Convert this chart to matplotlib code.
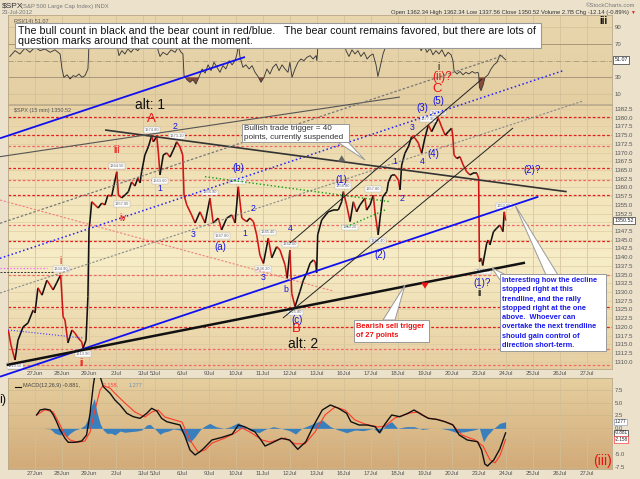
import numpy as np
import matplotlib
matplotlib.use('Agg')
import matplotlib.pyplot as plt
import matplotlib.colors as mcolors
from matplotlib.collections import LineCollection
from matplotlib.patches import Rectangle, Polygon

plt.rcParams['font.family'] = ['Liberation Sans', 'DejaVu Sans']

# ---------------------------------------------------------------- data
days = ['26Jun', '27Jun', '28Jun', '29Jun', '2Jul', '3Jul', '5Jul', '6Jul', '9Jul',
        '10Jul', '11Jul', '12Jul', '13Jul', '16Jul', '17Jul', '18Jul', '19Jul',
        '20Jul', '23Jul', '24Jul', '25Jul', '26Jul', '27Jul']
day_len = [1, 1, 1, 1, 1, 0.44, 1, 1, 1, 1, 1, 1, 1, 1, 1, 1, 1, 1, 1, 1, 1, 1, 1]

# time in trading days from 27-Jun open, 15-min S&P 500 path
price_t = [-0.99, -0.89, -0.74, -0.63, -0.44, -0.26, -0.07, 0.00, 0.11, 0.26, 0.44, 0.56,
           0.67, 0.80, 0.95, 0.99, 1.04, 1.11, 1.22, 1.37, 1.48, 1.60, 1.73, 1.78, 1.89,
           1.96, 2.00, 2.04, 2.10, 2.22, 2.34, 2.47, 2.59, 2.70, 2.84, 3.03, 3.09, 3.21,
           3.33, 3.46, 3.58, 3.70, 3.81, 3.89, 3.95, 4.07, 4.20, 4.32, 4.38, 4.51, 4.57,
           4.63, 4.75, 4.88, 5.00, 5.12, 5.25, 5.37, 5.47, 5.52, 5.62, 5.80, 5.93, 6.11,
           6.30, 6.48, 6.60, 6.79, 6.91, 7.10, 7.29, 7.41, 7.53, 7.66, 7.84, 7.96, 8.09,
           8.21, 8.33, 8.46, 8.64, 8.77, 8.95, 9.07, 9.26, 9.34, 9.44, 9.51, 9.63, 9.81,
           9.94, 10.06, 10.19, 10.31, 10.38, 10.43, 10.47, 10.62, 10.86, 11.05, 11.23,
           11.36, 11.42, 11.54, 11.67, 11.79, 11.91, 12.04, 12.22, 12.28, 12.41, 12.53,
           12.59, 12.71, 12.78, 12.88, 13.03, 13.09, 13.21, 13.33, 13.46, 13.52, 13.58,
           13.70, 13.83, 13.95, 14.07, 14.20, 14.32, 14.44, 14.57, 14.69, 14.81, 14.94,
           15.06, 15.19, 15.31, 15.43, 15.47, 15.52, 15.62, 15.74, 15.86, 15.99, 16.11,
           16.23, 16.36, 16.43, 16.46, 16.53, 16.58, 16.73, 16.79, 16.85, 16.98, 17.10,
           17.22, 17.33, 17.38, 17.43]
price_v = [1319.1, 1314.8, 1310.5, 1316.2, 1320.0, 1321.1, 1324.8, 1324.0, 1331.2, 1329.1,
           1333.4, 1332.0, 1330.6, 1332.6, 1334.9, 1329.7, 1322.9, 1322.0, 1315.4, 1319.1,
           1318.2, 1316.8, 1315.7, 1313.9, 1316.2, 1328.7, 1347.8, 1350.7, 1355.9, 1355.0,
           1354.1, 1355.5, 1355.0, 1357.8, 1357.5, 1364.5, 1357.8, 1357.0, 1357.8, 1358.8,
           1361.6, 1360.4, 1362.7, 1361.3, 1364.5, 1369.3, 1371.7, 1374.8, 1373.1, 1374.6,
           1369.9, 1363.6, 1369.3, 1369.9, 1368.7, 1370.7, 1373.1, 1371.6, 1369.3, 1357.8,
           1355.0, 1352.1, 1349.8, 1353.0, 1349.8, 1356.9, 1349.8, 1351.2, 1347.8, 1351.2,
           1352.1, 1349.8, 1360.2, 1351.2, 1350.2, 1351.2, 1350.2, 1346.4, 1340.6, 1338.2,
           1345.4, 1339.8, 1343.0, 1342.1, 1337.8, 1333.9, 1342.0, 1329.6, 1325.8, 1330.1,
           1333.4, 1335.4, 1338.3, 1339.2, 1338.6, 1335.5, 1346.4, 1350.7, 1353.0, 1353.5,
           1353.5, 1355.9, 1358.8, 1355.0, 1350.2, 1355.9, 1353.0, 1355.0, 1356.9, 1353.5,
           1355.0, 1357.8, 1353.0, 1346.4, 1351.2, 1357.3, 1358.8, 1361.6, 1363.6, 1363.6,
           1362.1, 1359.3, 1366.4, 1369.8, 1371.7, 1374.6, 1374.2, 1372.7, 1369.8, 1374.2,
           1377.9, 1376.0, 1377.9, 1379.8, 1377.4, 1375.0, 1376.0, 1377.0, 1375.0, 1369.3,
           1368.3, 1368.8, 1366.4, 1364.5, 1363.6, 1364.1, 1364.1, 1362.7, 1338.7, 1339.7,
           1337.6, 1344.0, 1344.9, 1343.5, 1347.3, 1348.3, 1349.2, 1347.3, 1353.0, 1350.5]

# swing points that carry a small price tag: (index into the price series, +1 above / -1 below)
swing_idx = [2, 14, 23, 35, 37, 47, 51, 56, 65, 68, 72, 79, 80, 86, 88, 102, 104, 111, 113,
             130, 133, 150, 158]
swing_dir = [-1, 1, -1, 1, -1, 1, -1, 1, 1, -1, 1, -1, 1, 1, -1, 1, -1, 1, -1, 1, 1, -1, 1]

rsi_t = [-0.93, -0.74, -0.56, -0.37, -0.19, 0.00, 0.19, 0.37, 0.56, 0.74, 0.93, 1.00, 1.07,
         1.19, 1.30, 1.41, 1.52, 1.63, 1.74, 1.85, 1.96, 2.00, 2.04, 2.22, 2.41, 2.59, 2.78,
         2.96, 3.04, 3.11, 3.22, 3.33, 3.44, 3.56, 3.67, 3.81, 3.96, 4.11, 4.26, 4.37, 4.48,
         4.56, 4.63, 4.74, 4.89, 5.04, 5.19, 5.30, 5.41, 5.48, 5.52, 5.63, 5.74, 5.85, 5.96,
         6.07, 6.19, 6.30, 6.41, 6.52, 6.63, 6.74, 6.85, 6.96, 7.07, 7.19, 7.30, 7.41, 7.48,
         7.54, 7.59, 7.70, 7.81, 7.93, 8.04, 8.15, 8.26, 8.37, 8.48, 8.59, 8.70, 8.81, 8.93,
         9.04, 9.15, 9.26, 9.37, 9.44, 9.52, 9.63, 9.74, 9.85, 9.96, 10.07, 10.19, 10.30,
         10.41, 10.44, 10.48, 10.56, 10.78, 10.93, 11.11, 11.30, 11.41, 11.52, 11.63, 11.74,
         11.85, 11.96, 12.07, 12.19, 12.30, 12.41, 12.52, 12.63, 12.70, 12.78, 12.89, 13.00,
         13.15, 13.33, 13.52, 13.63, 13.78, 13.93, 14.07, 14.19, 14.30, 14.41, 14.52, 14.63,
         14.74, 14.85, 14.96, 15.07, 15.19, 15.30, 15.41, 15.48, 15.52, 15.63, 15.74, 15.85,
         15.96, 16.07, 16.19, 16.30, 16.40, 16.43, 16.46, 16.52, 16.59, 16.67, 16.78, 16.89,
         17.00, 17.11, 17.22, 17.30, 17.43]
rsi_v = [55, 62, 58, 65, 60, 66, 62, 64, 60, 63, 58, 40, 30, 33, 28, 32, 31, 34, 30, 32, 40,
         70, 78, 82, 75, 80, 72, 78, 68, 56, 62, 58, 64, 60, 65, 62, 68, 75, 80, 76, 79, 62,
         55, 60, 57, 63, 60, 66, 60, 58, 32, 27, 24, 27, 22, 30, 40, 35, 45, 38, 48, 42, 36,
         44, 40, 50, 45, 50, 58, 70, 55, 42, 45, 40, 44, 36, 31, 24, 30, 40, 34, 42, 46, 38,
         45, 40, 36, 48, 30, 40, 48, 52, 50, 54, 56, 52, 56, 50, 68, 78, 82, 80, 84, 78, 80,
         62, 55, 63, 58, 62, 55, 60, 52, 56, 58, 45, 31, 42, 58, 68, 75, 78, 68, 74, 78, 82,
         76, 72, 62, 68, 60, 65, 57, 62, 58, 63, 55, 60, 57, 50, 38, 34, 37, 33, 36, 34, 37,
         35, 36, 34, 18, 14, 20, 30, 33, 40, 45, 48, 57, 55, 51.07]

macd_t = [0.06, 0.19, 0.37, 0.56, 0.68, 0.80, 0.93, 1.11, 1.23, 1.48, 1.73, 1.91, 2.04, 2.16,
          2.22, 2.41, 2.53, 2.78, 2.96, 3.15, 3.40, 3.64, 3.89, 4.14, 4.32, 4.51, 4.69, 4.88,
          5.12, 5.37, 5.56, 5.74, 5.93, 6.11, 6.25, 6.55, 6.93, 7.31, 7.53, 7.76, 8.14, 8.37,
          8.52, 8.74, 9.12, 9.43, 9.73, 10.03, 10.33, 10.64, 10.94, 11.24, 11.54, 11.70,
          12.00, 12.30, 12.60, 12.76, 12.98, 13.21, 13.51, 13.81, 14.04, 14.34, 14.57, 14.87,
          15.18, 15.48, 15.71, 16.01, 16.39, 16.54, 16.66, 16.76, 16.99, 17.21, 17.43]
macd_v = [2.59, 3.56, 3.75, 3.56, 2.59, 1.29, -0.32, -1.93, -2.71, -2.71, -2.45, -1.29, 2.92,
          8.4, 10.4, 10.1, 8.09, 6.80, 5.50, 4.53, 2.92, 2.26, 1.94, 2.92, 3.89, 3.37, 1.94,
          1.29, 0.97, 0.65, -1.62, -4.2, -5.17, -4.53, -3.88, -2.26, -1.74, -1.10, 0.65,
          0.32, -0.65, -2.26, -3.43, -2.91, -1.93, -2.26, -4.07, -2.59, 0.65, 3.56, 4.53,
          3.89, 2.92, 1.29, 0.65, 0.65, 0.32, -0.84, 0.97, 2.59, 2.26, 2.92, 3.56, 2.59, 1.94,
          1.75, 1.29, 0.65, -1.29, -2.26, -2.59, -4.2, -6.92, -7.3, -6.14, -4.07, -0.881]

sig_t = [0.06, 0.37, 0.67, 0.93, 1.11, 1.30, 1.59, 1.85, 2.04, 2.22, 2.41, 2.52, 2.78, 2.96,
         3.33, 3.70, 4.07, 4.33, 4.56, 4.81, 5.19, 5.44, 5.74, 6.04, 6.30, 6.56, 7.04, 7.41,
         7.67, 7.96, 8.41, 8.70, 9.26, 9.63, 10.00, 10.37, 10.74, 11.11, 11.48, 11.85, 12.22,
         12.70, 12.96, 13.33, 13.89, 14.19, 14.56, 15.00, 15.44, 15.81, 16.30, 16.59, 16.85,
         17.04, 17.22, 17.43]
sig_v = [2.59, 3.6, 3.2, 0.65, -1.29, -2.26, -2.71, -2.45, -0.7, 3.56, 7.45, 8.3, 7.8, 6.8,
         4.92, 3.18, 2.2, 3.18, 3.56, 2.2, 1.6, 1.23, -2.26, -4.6, -4.2, -2.84, -1.87, -0.9,
         0.07, -0.7, -2.26, -2.65, -1.87, -3.0, -3.0, -0.7, 2.59, 4.14, 3.56, 1.62, 0.84,
         0.26, 0.45, 2.0, 2.98, 3.17, 2.0, 1.62, 0.84, -1.29, -2.26, -3.43, -6.1, -6.7, -5.3,
         -2.158]

hist_t = [0.31, 0.56, 0.74, 0.93, 1.05, 1.17, 1.30, 1.48, 1.67, 1.85, 1.97, 2.10, 2.20, 2.29,
          2.41, 2.53, 2.66, 2.84, 2.96, 3.15, 3.33, 3.52, 3.77, 3.95, 4.14, 4.26, 4.44, 4.63,
          4.75, 4.94, 5.12, 5.37, 5.49, 5.62, 5.74, 5.93, 6.11, 6.25, 6.47, 6.70, 7.00, 7.23,
          7.53, 7.76, 7.99, 8.29, 8.52, 8.82, 9.12, 9.43, 9.65, 9.88, 10.18, 10.49, 10.64,
          10.94, 11.24, 11.54, 11.85, 12.15, 12.53, 12.76, 12.98, 13.21, 13.43, 13.74, 14.04,
          14.34, 14.64, 15.03, 15.33, 15.63, 15.93, 16.24, 16.46, 16.61, 16.76, 16.99, 17.21,
          17.43]
hist_v = [0, -0.1, -0.96, -1.29, -0.77, -1.62, -0.96, -0.32, 0, 0.65, 1.94, 4.53, 5.83, 3.23,
          0.97, -0.32, -0.96, -0.96, -1.29, -0.52, -0.77, -0.64, -0.52, -0.32, 0.65, 0.78,
          -0.1, -1.16, -0.77, -0.52, -0.1, -0.32, -0.96, -2.26, -2.71, -1.62, -0.32, 0.33,
          0.97, 0.33, 0, 0.33, 1.1, 0.33, -0.45, -0.84, -0.2, 0.33, 0, -0.45, -1.1, 0, 0.65,
          1.29, 1.62, 0.33, -0.32, -0.84, -0.32, -0.45, 0, -0.96, 0.65, 1.29, 0, 0.33, 0.33,
          -0.2, 0, 0, -0.32, -0.84, -0.64, -0.32, 0, -2.59, -1.29, 0, 0.97, 1.277]

fib_levels = [1380.2, 1375.0, 1372.0, 1365.5, 1362.2, 1357.7, 1349.1, 1344.7, 1334.8,
              1325.6, 1320.0, 1313.7, 1309.1]
fib_strong = [True, True, False, True, False, True, False, True, False, True, True, False,
              False]

# trend lines drawn on the chart: (day0, price0, day1, price1)
trend_pts = [(-1.296, 1374.10, 7.778, 1397.42),
             (-1.296, 1339.67, 19.556, 1393.49),
             (-1.296, 1305.71, 18.641, 1357.34),
             (-1.048, 1309.07, 18.148, 1338.41),
             (2.593, 1376.48, 19.693, 1358.78),
             (-1.296, 1368.82, 13.519, 1385.94),
             (-1.296, 1349.71, 17.333, 1397.79),
             (-1.296, 1329.72, 20.296, 1384.80),
             (-1.296, 1356.40, 11.037, 1330.29),
             (6.296, 1363.08, 13.148, 1355.91),
             (11.544, 1348.74, 12.963, 1353.53),
             (9.444, 1344.06, 16.556, 1391.11),
             (9.185, 1322.55, 17.704, 1377.05),
             (-1.296, 1336.80, 0.433, 1336.80),
             (-1.000, 1319.11, 1.778, 1316.81),
             (-1.296, 1335.83, 0.667, 1335.83)]
trend_style = [('#1010f0', 1.3, '-'), ('#2020ff', 1.1, ':'), ('#1010f0', 1.3, '-'),
               ('#111111', 1.8, '-'), ('#333333', 1.2, '-'), ('#555555', 0.8, '-'),
               ('#777777', 0.9, (0, (2, 1.5))), ('#8a8a8a', 0.8, (0, (2, 1.5))),
               ('#f08080', 0.8, (0, (2, 1.5))), ('#10a010', 1.0, ':'), ('#10a010', 1.0, ':'),
               ('#222222', 0.7, '-'), ('#222222', 0.7, '-'), ('#ff60ff', 0.9, ':'),
               ('#4040ff', 0.8, ':'), ('#333333', 0.7, (0, (2, 1.5)))]

header_right = 'Open 1362.34 High 1362.34 Low 1337.56 Close 1350.52 Volume 2.7B Chg -12.14 (-0.89%)'
last_close, last_rsi = 1350.52, 51.07
last_macd, last_sig, last_hist = -0.881, -2.158, 1.277

# ---------------------------------------------------------------- layout helpers
W, H = 640, 479
X_REF, PX_DAY = 35.0, 27.0
Y_REF, P_REF, PX_PT = 109.0, 1382.5, 3.486
RSI_Y50, RSI_PX = 60.65, 0.833
MACD_Y0, MACD_PX = 428.35, 5.153


def t_of(x):
    return (x - X_REF) / PX_DAY


def p_of(y):
    return P_REF - (y - Y_REF) / PX_PT


def rect(x0, y0, x1, y1):
    return [x0 / W, 1 - y1 / H, (x1 - x0) / W, (y1 - y0) / H]


fig = plt.figure(figsize=(6.4, 4.79), dpi=100)
fig.patch.set_facecolor('#ece2cc')

RSI_BOX = (8, 15, 612, 104)
PX_BOX = (8, 105, 612, 369)
MACD_BOX = (8, 378, 612, 469)

ax_rsi = fig.add_axes(rect(*RSI_BOX))
ax_px = fig.add_axes(rect(*PX_BOX))
ax_m = fig.add_axes(rect(*MACD_BOX))

xlim = (t_of(RSI_BOX[0]), t_of(RSI_BOX[2]))
starts = np.concatenate([[-1.0], -1.0 + np.cumsum(day_len)[:-1]])
tick_pos = starts[1:]
tick_lab = days[1:]


def gradient(ax, stops, ylim):
    pos = np.linspace(0, 1, 200)
    cols = np.array([mcolors.to_rgb(c) for _, c in stops])
    sp = [s for s, _ in stops]
    img = np.stack([np.interp(pos, sp, cols[:, k]) for k in range(3)], axis=-1)[:, None, :]
    ax.imshow(img, extent=[xlim[0], xlim[1], ylim[0], ylim[1]], aspect='auto',
              origin='upper', zorder=0, interpolation='bilinear')
    ax.set_xlim(*xlim)
    ax.set_ylim(*ylim)


def style_axis(ax):
    for s in ax.spines.values():
        s.set_color('#b8a888')
        s.set_linewidth(0.6)
    ax.tick_params(axis='both', length=0, labelsize=4.3, colors='#555555', pad=2)
    ax.yaxis.tick_right()
    for tp in starts:
        ax.axvline(tp, color='#d2bf98', lw=0.5, zorder=1)


# ---------------- RSI panel
rsi_ylim = (50 - (RSI_BOX[3] - RSI_Y50) / RSI_PX, 50 + (RSI_Y50 - RSI_BOX[1]) / RSI_PX)
gradient(ax_rsi, [(0, '#e9d6ae'), (1, '#e4cfa2')], rsi_ylim)
style_axis(ax_rsi)
for lv in (10, 90):
    ax_rsi.axhline(lv, color='#d2bf98', lw=0.5, zorder=1)
for lv in (30, 70):
    ax_rsi.axhline(lv, color='#a8977a', lw=0.7, zorder=1)
ax_rsi.axhline(50, color='#a8977a', lw=0.6, ls='-.', zorder=1)
rt = np.array(rsi_t)
rv = np.array(rsi_v, dtype=float)
ax_rsi.fill_between(rt, rv, 30, where=rv < 30, interpolate=True, color='#8a4a38', zorder=2, lw=0)
ax_rsi.plot(rt, rv, color='#3a3a3a', lw=0.65, zorder=3)
ax_rsi.set_yticks([10, 30, 70, 90])
ax_rsi.set_yticklabels(['10', '30', '70', '90'])
ax_rsi.set_xticks([])
ax_rsi.text(1.004, last_rsi, '%.2f' % last_rsi, transform=ax_rsi.get_yaxis_transform(),
            fontsize=3.8, va='center', ha='left', color='#222',
            bbox=dict(boxstyle='square,pad=0.25', fc='white', ec='#333', lw=0.5))
ax_rsi.text(0.01, 0.96, 'RSI(14) %.2f' % last_rsi, transform=ax_rsi.transAxes, fontsize=4,
            color='#555', va='top', ha='left', zorder=6)

# ---------------- price panel
px_ylim = (p_of(PX_BOX[3]), p_of(PX_BOX[1]))
gradient(ax_px, [(0, '#e8d2a6'), (0.35, '#f3e6bc'), (0.6, '#f6ecc6'), (1, '#e6cea0')], px_ylim)
style_axis(ax_px)
yt = np.arange(1310, 1383, 2.5)
for lv in yt:
    ax_px.axhline(lv, color='#dccaa2', lw=0.45, zorder=1)
for lv, strong in zip(fib_levels, fib_strong):
    ax_px.axhline(lv, color='#e81c1c' if strong else '#f06a6a', lw=0.9,
                  ls=(0, (2.2, 1.6)), zorder=2)
yt_show = [v for v in yt if abs(v - last_close) > 1.2]
ax_px.set_yticks(yt_show)
ax_px.set_yticklabels(['%.1f' % v for v in yt_show])
ax_px.set_xticks(tick_pos)
ax_px.set_xticklabels(tick_lab)
ax_px.tick_params(axis='x', pad=1.5)

pt = np.array(price_t)
pv = np.array(price_v)
segs = np.stack([np.column_stack([pt[:-1], pv[:-1]]), np.column_stack([pt[1:], pv[1:]])], axis=1)
seg_cols = ['#d01515' if b < a else '#111111' for a, b in zip(pv[:-1], pv[1:])]
ax_px.add_collection(LineCollection(segs, colors=seg_cols, linewidths=1.15, zorder=4))

for i, d in zip(swing_idx, swing_dir):
    ax_px.annotate('%.2f' % pv[i], (pt[i], pv[i]), xytext=(0, 4.2 * d), textcoords='offset points',
                   ha='center', va='center', fontsize=2.9, color='#666', zorder=7,
                   bbox=dict(boxstyle='square,pad=0.2', fc='white', ec='#aaa', lw=0.3))

ax_px.text(1.004, last_close, '%.2f' % last_close, transform=ax_px.get_yaxis_transform(),
           fontsize=3.8, va='center', ha='left', color='#222', zorder=8,
           bbox=dict(boxstyle='square,pad=0.25', fc='white', ec='#333', lw=0.5))
ax_px.text(0.01, 0.99, '$SPX (15 min) %.2f' % last_close, transform=ax_px.transAxes,
           fontsize=4, color='#555', va='top', ha='left', zorder=6)

# ---------------- MACD panel
m_ylim = (-(MACD_BOX[3] - MACD_Y0) / MACD_PX, (MACD_Y0 - MACD_BOX[1]) / MACD_PX)
gradient(ax_m, [(0, '#e6cf9f'), (1, '#d2aa78')], m_ylim)
style_axis(ax_m)
mt = np.arange(-7.5, 7.6, 2.5)
for lv in mt:
    ax_m.axhline(lv, color='#ccb68c', lw=0.45, zorder=1)
ax_m.fill_between(np.array(hist_t), 0, np.array(hist_v), color='#3a7fbd', lw=0, zorder=2)
ax_m.plot(sig_t, sig_v, color='#ff3a2a', lw=0.8, zorder=3)
ax_m.plot(macd_t, macd_v, color='#111111', lw=1.0, zorder=4)
mt_show = [v for v in mt if v != -2.5]
ax_m.set_yticks(mt_show)
ax_m.set_yticklabels(['%.1f' % v for v in mt_show])
ax_m.set_xticks(tick_pos)
ax_m.set_xticklabels(tick_lab)
ax_m.tick_params(axis='x', pad=1.5)
for val, ec in ((last_hist, '#8fa8c8'), (last_macd, '#333333'), (last_sig, '#ff4040')):
    ax_m.text(1.004, val, '%.3f' % val, transform=ax_m.get_yaxis_transform(), fontsize=3.3,
              va='center', ha='left', color='#222', zorder=8,
              bbox=dict(boxstyle='square,pad=0.15', fc='white', ec=ec, lw=0.5))
ax_m.text(0.025, 0.95, 'MACD(12,26,9) %.3f,' % last_macd, transform=ax_m.transAxes,
          fontsize=4, color='#444', va='top', ha='left')
ax_m.text(0.155, 0.95, '%.3f,' % last_sig, transform=ax_m.transAxes, fontsize=4,
          color='#ff4040', va='top', ha='left')
ax_m.text(0.2, 0.95, '%.3f' % last_hist, transform=ax_m.transAxes, fontsize=4,
          color='#6f8fb5', va='top', ha='left')
ax_m.plot([0.012, 0.022], [0.9, 0.9], transform=ax_m.transAxes, color='#111', lw=0.8)

# ---------------- overlay in (day, price) for trend lines
ax_tl = fig.add_axes([0, 0, 1, 1], zorder=5)
ax_tl.set_xlim(t_of(0), t_of(W))
ax_tl.set_ylim(p_of(H), p_of(0))
ax_tl.axis('off')
ax_tl.patch.set_alpha(0)
for (t0, p0, t1, p1), (c, lw, ls) in zip(trend_pts, trend_style):
    ax_tl.plot([t0, t1], [p0, p1], color=c, lw=lw, ls=ls, solid_capstyle='butt')

# ---------------- overlay in pixels for notes and labels
ax_a = fig.add_axes([0, 0, 1, 1], zorder=6)
ax_a.set_xlim(0, W)
ax_a.set_ylim(H, 0)
ax_a.axis('off')
ax_a.patch.set_alpha(0)

# header
ax_a.text(2, 6, '$SPX', fontsize=6, color='#333', va='center', ha='left')
ax_a.text(21, 6, '(S&P 500 Large Cap Index) INDX', fontsize=4.2, color='#777', va='center', ha='left')
ax_a.text(2, 12.5, '23-Jul-2012', fontsize=4.2, color='#777', va='center', ha='left')
ax_a.text(635, 5.5, '\u00a9StockCharts.com', fontsize=4.2, color='#777', va='center', ha='right')
ax_a.text(629, 12.5, header_right, fontsize=4.2, color='#333', va='center', ha='right')
ax_a.text(635, 12.5, '\u25bc', fontsize=3.5, color='#e02020', va='center', ha='right')

# main note
ax_a.add_patch(Rectangle((15, 23), 526, 24.5, fc='white', ec='#999', lw=0.8, zorder=9))
ax_a.text(18, 30.2, 'The bull count in black and the bear count in red/blue.   The bear count '
          'remains favored, but there are lots of', fontsize=7.7, color='#111', va='center',
          ha='left', zorder=10)
ax_a.text(18, 40.8, 'question marks around that count at the moment.', fontsize=7.7,
          color='#111', va='center', ha='left', zorder=10)

# callout wedges
for poly in ([(336, 141), (347, 141), (365, 160)],
             [(383, 320), (395, 320), (405, 285)],
             [(546, 275), (558, 275), (515, 205)],
             [(500, 280), (506, 275), (492, 268)]):
    ax_a.add_patch(Polygon(poly, closed=True, fc='white', ec='#999', lw=0.7, zorder=8))

ax_a.add_patch(Rectangle((241.5, 123.5), 107, 18, fc='white', ec='#999', lw=0.7, zorder=9))
ax_a.text(244, 128.8, 'Bullish trade trigger = 40', fontsize=5.9, color='#333', va='center',
          ha='left', zorder=10)
ax_a.text(244, 137.6, 'points, currently suspended', fontsize=5.9, color='#333', va='center',
          ha='left', zorder=10)

ax_a.add_patch(Rectangle((353.5, 319.5), 75, 22, fc='white', ec='#999', lw=0.7, zorder=9))
ax_a.text(356, 326, 'Bearish sell trigger', fontsize=5.4, color='#ee1111', va='center',
          ha='left', zorder=10, fontweight='bold')
ax_a.text(356, 335.5, 'of 27 points', fontsize=5.4, color='#ee1111', va='center', ha='left',
          zorder=10, fontweight='bold')

ax_a.add_patch(Rectangle((500, 274), 106, 77, fc='white', ec='#999', lw=0.7, zorder=9))
blue_note = ['Interesting how the decline', 'stopped right at this', 'trendline, and the rally',
             'stopped right at the one', 'above.  Whoever can', 'overtake the next trendline',
             'should gain control of', 'direction short-term.']
for k, line in enumerate(blue_note):
    ax_a.text(502, 280.5 + 9.3 * k, line, fontsize=5.35, color='#1a1aee', va='center', ha='left',
              zorder=10, fontweight='bold')

# arrows
ax_a.annotate('', xy=(341.7, 152.5), xytext=(341.7, 162),
              arrowprops=dict(arrowstyle='simple,head_width=0.55,head_length=0.45,tail_width=0.25',
                              fc='#666', ec='none'))
ax_a.annotate('', xy=(425, 291.5), xytext=(425, 281),
              arrowprops=dict(arrowstyle='simple,head_width=0.55,head_length=0.45,tail_width=0.25',
                              fc='#ee1111', ec='none'))

# wave labels
red_lab = [(60.7, 261.5, 'i', 7), (81.7, 363, 'ii', 7), (116.7, 150, 'iii', 7),
           (123.3, 218.3, 'iv', 7), (151, 119, 'A', 9.5), (296, 329.5, 'B', 9.5),
           (436.7, 89, 'C', 9.5), (442, 77.3, '(ii)?', 8.5), (603, 461.5, '(iii)', 10)]
for x, y, s, fs in red_lab:
    ax_a.text(x, y, s, color='#ee1111', fontsize=fs, ha='center', va='center', zorder=7)

black_lab = [(150, 105, 'alt: 1', 10), (303, 344.5, 'alt: 2', 10), (438.3, 67.3, 'i', 7),
             (480, 293.3, 'ii', 7), (603, 21, 'iii', 7), (3, 400, 'i)', 9)]
for x, y, s, fs in black_lab:
    ax_a.text(x, y, s, color='#111111', fontsize=fs, ha='center', va='center', zorder=7,
              fontweight='bold' if s == 'iii' else 'normal')

blue_lab = [(175, 126, '2'), (160, 188.3, '1'), (193.3, 234.3, '3'), (220, 246.7, '(a)'),
            (238.3, 167.7, '(b)'), (245, 233.3, '1'), (252.7, 208.3, '2'), (290, 228.3, '4'),
            (263.3, 277.3, '3'), (285.7, 289.3, 'b'), (296.7, 320, '(c)'), (341.7, 180, '(1)'),
            (380, 255, '(2)'), (394.3, 161.7, '1'), (401.7, 198.3, '2'), (411.7, 127.7, '3'),
            (422.3, 161.7, '4'), (433.3, 154.3, '(4)'), (422.7, 108.3, '(3)'),
            (438.3, 101, '(5)'), (531.7, 170, '(2)?'), (481.7, 283.3, '(1)?')]
for x, y, s in blue_lab:
    ax_a.text(x, y, s, color='#1515e0', fontsize=7 if '(' in s else 6.2, ha='center',
              va='center', zorder=7)

fig.savefig('out.png', dpi=100, facecolor=fig.get_facecolor())
